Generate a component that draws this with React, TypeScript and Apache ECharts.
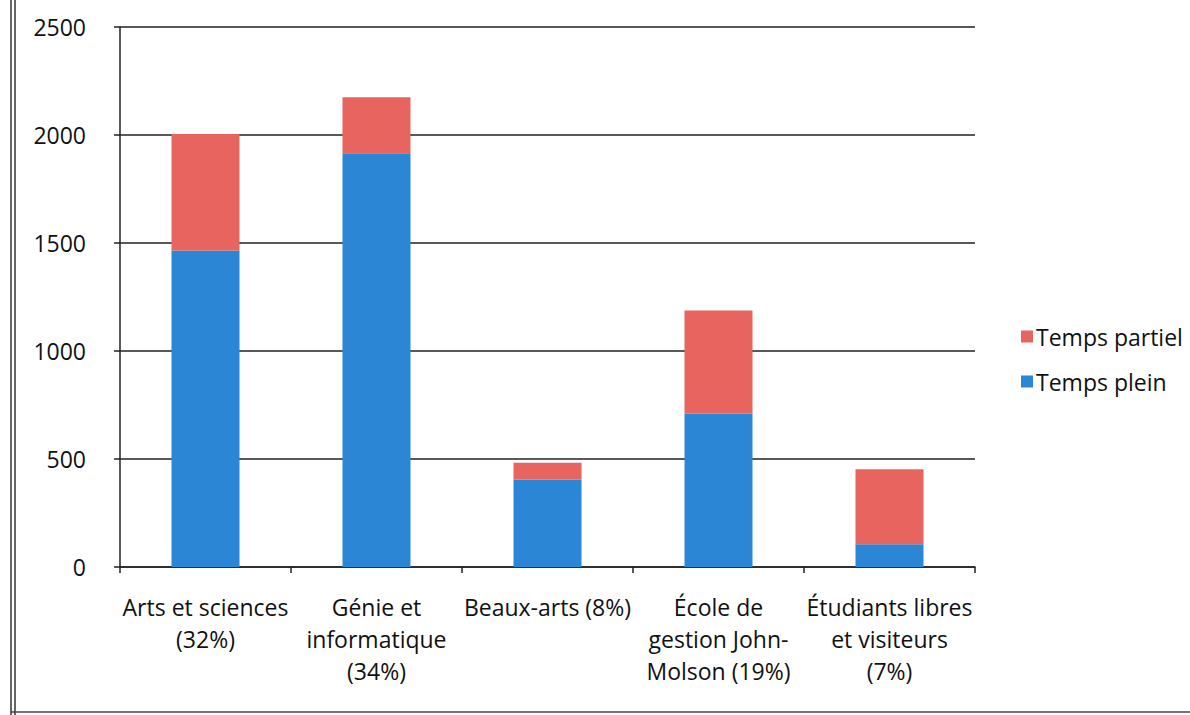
import React, { useEffect, useRef } from "react";
import * as echarts from "echarts";

const categories = [
  "Arts et sciences\n(32%)",
  "Génie et\ninformatique\n(34%)",
  "Beaux-arts (8%)",
  "École de\ngestion John-\nMolson (19%)",
  "Étudiants libres\net visiteurs\n(7%)",
];
const tempsPlein = [1465, 1915, 405, 710, 105];
const tempsPartiel = [540, 260, 78, 477, 347];
const yTicks = { min: 0, max: 2500, interval: 500 };

const BLUE = "#2b87d6";
const RED = "#e8655f";
const FONT = "'Open Sans', 'Noto Sans', sans-serif";

export default function App() {
  const ref = useRef<HTMLDivElement>(null);
  useEffect(() => {
    if (!ref.current) return;
    const chart = echarts.init(ref.current, undefined, { renderer: "svg" });
    chart.setOption({
      animation: false,
      backgroundColor: "#ffffff",
      textStyle: { fontFamily: FONT },
      grid: { left: 120, right: 215, top: 27, bottom: 148, containLabel: false },
      legend: {
        orient: "vertical",
        left: 1016,
        top: 320,
        itemWidth: 12,
        itemHeight: 12,
        itemGap: 22,
        icon: "rect",
        data: ["Temps partiel", "Temps plein"],
        textStyle: { fontSize: 23, color: "#111", fontFamily: FONT, padding: [0, 0, 0, -2] },
      },
      xAxis: {
        type: "category",
        data: categories,
        axisLine: { lineStyle: { color: "#222", width: 1.5 } },
        axisTick: { show: true, alignWithLabel: false, length: 6, lineStyle: { color: "#222", width: 1.5 } },
        axisLabel: {
          interval: 0,
          fontSize: 23,
          color: "#111",
          lineHeight: 32,
          margin: 24,
          fontFamily: FONT,
        },
      },
      yAxis: {
        type: "value",
        min: yTicks.min,
        max: yTicks.max,
        interval: yTicks.interval,
        axisLine: { show: true, lineStyle: { color: "#222", width: 1.5 } },
        axisTick: { show: true, length: 6, lineStyle: { color: "#222", width: 1.5 } },
        splitLine: { show: true, lineStyle: { color: "#222", width: 1.5 } },
        axisLabel: {
          fontSize: 23,
          color: "#111",
          margin: 34,
          fontFamily: FONT,
          formatter: (v: number) => String(v),
        },
      },
      series: [
        {
          name: "Temps plein",
          type: "bar",
          stack: "total",
          barWidth: 68,
          data: tempsPlein,
          itemStyle: { color: BLUE },
        },
        {
          name: "Temps partiel",
          type: "bar",
          stack: "total",
          barWidth: 68,
          data: tempsPartiel,
          itemStyle: { color: RED },
        },
      ],
      graphic: [
        { type: "line", shape: { x1: 11, y1: 0, x2: 11, y2: 715 }, style: { stroke: "#333", lineWidth: 1.5 } },
        { type: "line", shape: { x1: 15, y1: 0, x2: 15, y2: 715 }, style: { stroke: "#333", lineWidth: 1.5 } },
        { type: "line", shape: { x1: 11, y1: 712, x2: 1190, y2: 712 }, style: { stroke: "#444", lineWidth: 1.5 } },
      ],
    });
    return () => chart.dispose();
  }, []);
  return (
    <div
      ref={ref}
      style={{ position: "absolute", left: 0, top: 0, width: 1190, height: 715 }}
    />
  );
}
